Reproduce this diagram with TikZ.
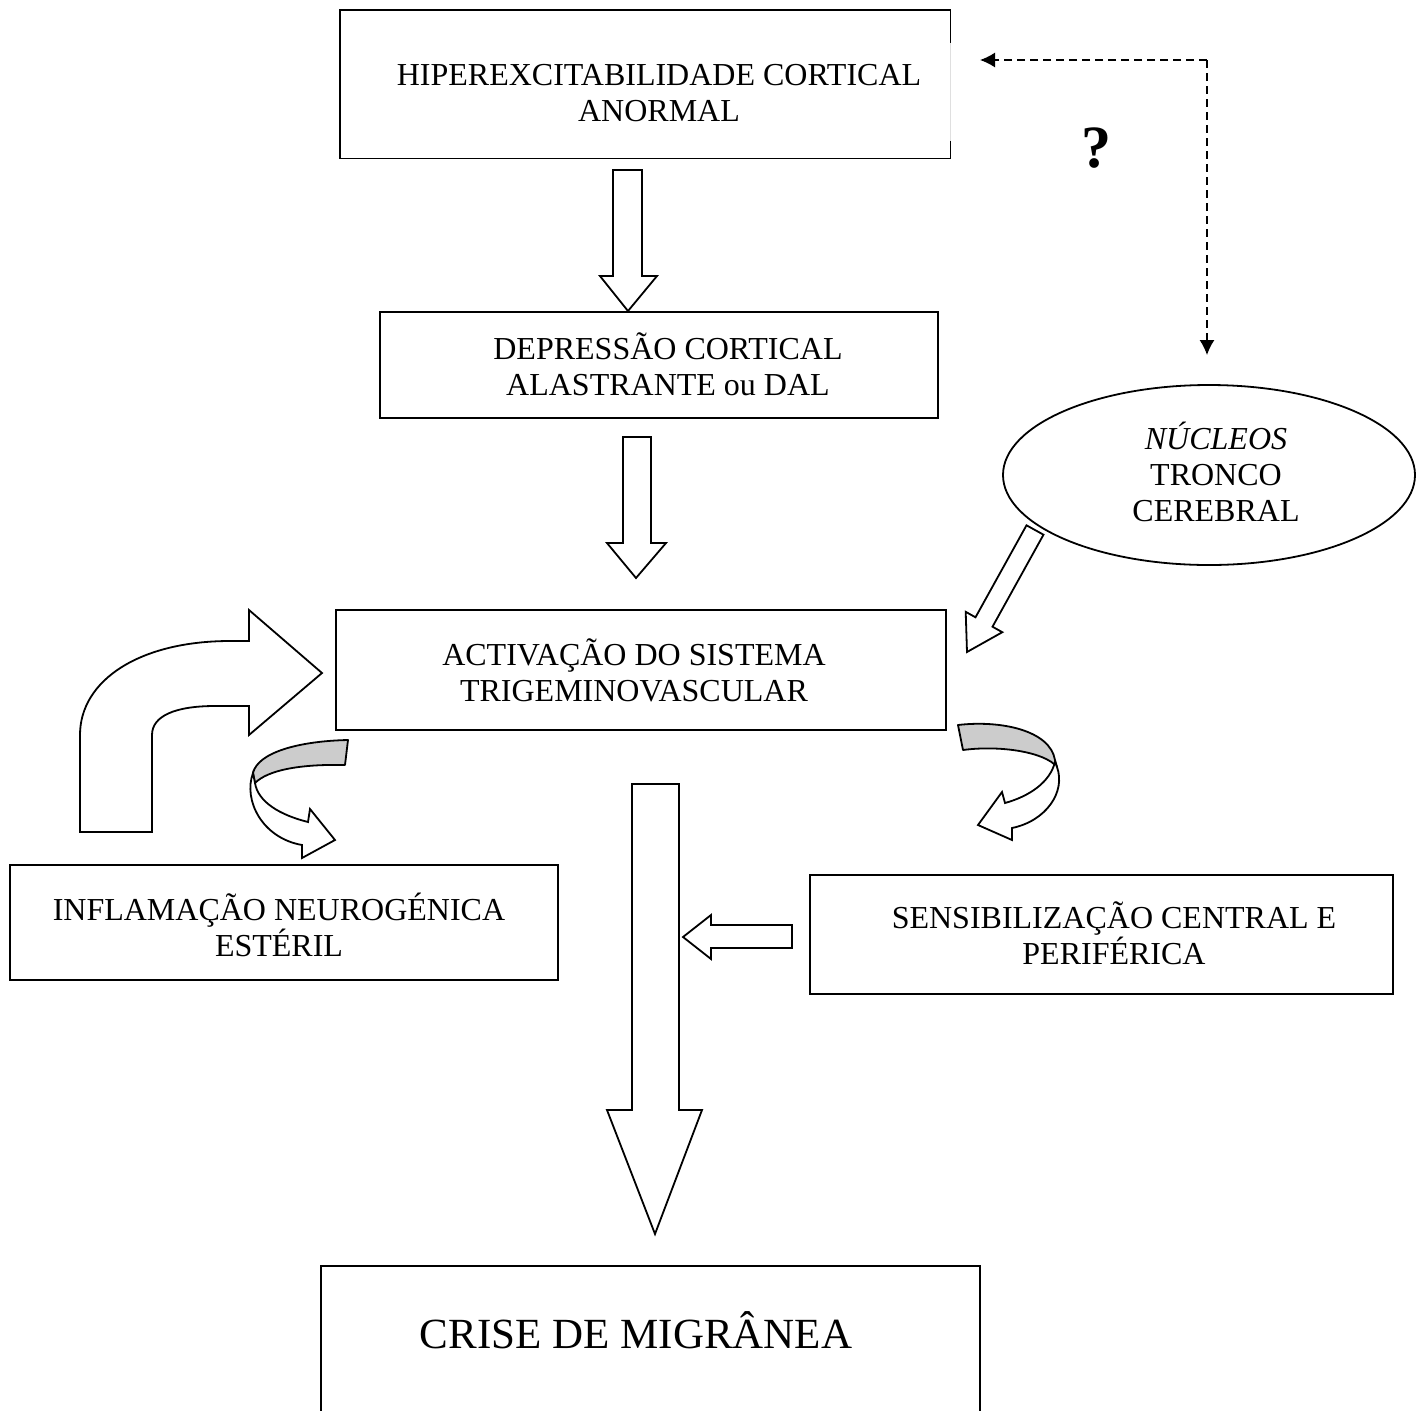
\documentclass[tikz,border=0pt]{standalone}
\usepackage{fontspec}
\setmainfont{Liberation Serif}
\usetikzlibrary{shapes.geometric,arrows.meta}

\begin{document}
\begin{tikzpicture}[x=0.5pt,y=-0.5pt,
    box/.style={draw, line width=0.9pt, inner sep=0pt},
    txt/.style={align=center, inner sep=0pt, font=\fontsize{16}{18}\selectfont},
    blockarrow/.style={draw, line width=0.9pt, fill=white, line join=miter},
    ribbon/.style={draw, line width=0.9pt, fill=gray!40, line join=round},
    dashlink/.style={line width=0.7pt, dash pattern=on 4pt off 2.5pt, -{Latex[length=7.5pt,width=7.5pt]}}]

  \useasboundingbox (0,0) rectangle (1426,1410);

  % top box (right edge only partly drawn)
  \node (hiper) [inner sep=0pt, minimum width=305pt, minimum height=74pt] at (645,84) {};
  \draw[line width=0.9pt] (hiper.north east) ++(0,33) -- (hiper.north east) -- (hiper.north west)
        -- (hiper.south west) -- (hiper.south east) -- ++(0,-17);
  \draw[gray!25, line width=0.4pt] (hiper.north east) ++(0,33) -- ++(0,98);
  \node (hipertxt) [txt] at (659,93) {HIPEREXCITABILIDADE CORTICAL\\ANORMAL};

  % first arrow
  \draw[blockarrow] (613,170) -- (642,170) -- (642,276) -- (657,276) -- (628,311)
        -- (600,276) -- (613,276) -- cycle;

  % second box
  \node (depr) [box, minimum width=279pt, minimum height=53pt] at (659,365) {};
  \node (deprtxt) [txt] at (668,364) {DEPRESSÃO CORTICAL\\ALASTRANTE ou DAL};

  % second arrow
  \draw[blockarrow] (623,437) -- (651,437) -- (651,543) -- (666,543) -- (636,578)
        -- (607,543) -- (623,543) -- cycle;

  % brainstem nuclei
  \node (nucleos) [draw, ellipse, line width=0.9pt, minimum width=206pt, minimum height=90pt] at (1209,475) {};
  \node (nucleostxt) [txt] at (1216,472) {\textit{NÚCLEOS}\\TRONCO\\CEREBRAL};

  % dashed link with question mark
  \coordinate (corner) at (1207,60);
  \coordinate (qleft) at (980,60);
  \coordinate (qdown) at (1207,355);
  \draw[dashlink] (corner) -- (qleft);
  \draw[dashlink] (corner) -- (qdown);
  \node (quest) [font=\fontsize{30}{30}\selectfont\bfseries] at (1096,148) {?};

  % diagonal arrow from the nuclei
  \draw[blockarrow] (1026.5,525.3) -- (1043.5,534.7) -- (992.5,626.7) -- (1002.3,632.2)
        -- (967,652) -- (965.7,611.8) -- (975.5,617.3) -- cycle;

  % third box
  \node (activ) [box, minimum width=305pt, minimum height=60pt] at (641,670) {};
  \node (activtxt) [txt] at (634,670) {ACTIVAÇÃO DO SISTEMA\\TRIGEMINOVASCULAR};

  % bent arrow on the left
  \draw[blockarrow] (80,832) -- (80,735) .. controls (80,680) and (140,641) .. (230,641)
        -- (249,641) -- (249,610) -- (322,673) -- (249,735) -- (249,706) -- (215,706)
        .. controls (175,706) and (152,716) .. (152,735) -- (152,832) -- cycle;

  % left ribbon arrow
  \draw[ribbon] (348,740) .. controls (300,741) and (258,752) .. (253,773) -- (255,783)
        .. controls (268,770) and (300,764) .. (345,765) -- cycle;
  \draw[blockarrow] (253,773) .. controls (243,800) and (262,838) .. (302,845) -- (302,858)
        -- (335,840) -- (310,809) -- (308,822) .. controls (280,815) and (258,802) .. (255,783) -- cycle;

  % right ribbon arrow
  \draw[ribbon] (958,725) .. controls (1000,720) and (1050,730) .. (1055,760) -- (1057,767)
        .. controls (1045,752) and (1000,745) .. (963,750) -- cycle;
  \draw[blockarrow] (1057,767) .. controls (1066,792) and (1046,821) .. (1012,828) -- (1012,840)
        -- (978,825) -- (1002,792) -- (1005,803) .. controls (1030,796) and (1050,782) .. (1055,762) -- cycle;

  % left and right boxes
  \node (infl) [box, minimum width=274pt, minimum height=57.5pt] at (284,922.5) {};
  \node (infltxt) [txt] at (279,925) {INFLAMAÇÃO NEUROGÉNICA\\ESTÉRIL};
  \node (sens) [box, minimum width=291.5pt, minimum height=59.5pt] at (1101.5,934.5) {};
  \node (senstxt) [txt] at (1114,933) {SENSIBILIZAÇÃO CENTRAL E\\PERIFÉRICA};

  % main arrow
  \draw[blockarrow] (632,784) -- (679,784) -- (679,1110) -- (702,1110) -- (655,1234)
        -- (607,1110) -- (632,1110) -- cycle;

  % small arrow into the main arrow
  \draw[blockarrow] (792,925) -- (792,948) -- (711,948) -- (711,959) -- (683,937)
        -- (711,915) -- (711,925) -- cycle;

  % bottom box (runs off the page)
  \node (crise) [box, minimum width=329.5pt, minimum height=80pt] at (650.5,1346) {};
  \node (crisetxt) [inner sep=0pt, font=\fontsize{21.5}{24}\selectfont] at (636,1330) {CRISE DE MIGRÂNEA};

\end{tikzpicture}
\end{document}
